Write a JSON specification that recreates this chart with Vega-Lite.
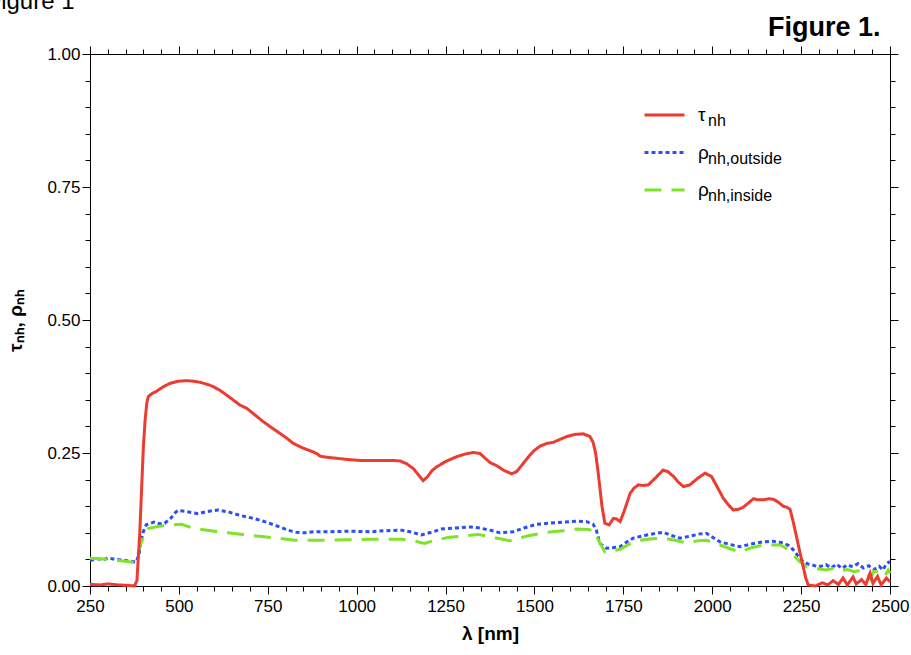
{
  "$schema": "https://vega.github.io/schema/vega-lite/v6.json",
  "width": 800,
  "height": 532,
  "autosize": {"type": "none"},
  "padding": {"left": 90, "top": 54, "right": 21, "bottom": 69},
  "background": "white",
  "config": {
    "view": {"stroke": null},
    "font": "Liberation Sans",
    "axis": {
      "domainColor": "black", "tickColor": "black", "labelColor": "black", "titleColor": "black",
      "labelFont": "Liberation Sans", "titleFont": "Liberation Sans",
      "labelFontSize": 17, "titleFontSize": 19, "titleFontWeight": "bold",
      "grid": false, "tickWidth": 1, "domainWidth": 1
    },
    "legend": {"labelFont": "Liberation Sans", "labelColor": "black"}
  },
  "data": {"values": [
    {"series":"out","lam":250,"val":0.048},{"series":"out","lam":270,"val":0.051},{"series":"out","lam":290,"val":0.050},{"series":"out","lam":301,"val":0.053},{"series":"out","lam":320,"val":0.050},{"series":"out","lam":338,"val":0.049},{"series":"out","lam":360,"val":0.047},{"series":"out","lam":380,"val":0.045},{"series":"out","lam":388,"val":0.060},{"series":"out","lam":394,"val":0.086},{"series":"out","lam":400,"val":0.102},{"series":"out","lam":408,"val":0.115},{"series":"out","lam":430,"val":0.120},{"series":"out","lam":445,"val":0.117},{"series":"out","lam":460,"val":0.118},{"series":"out","lam":478,"val":0.128},{"series":"out","lam":490,"val":0.138},{"series":"out","lam":497,"val":0.142},{"series":"out","lam":520,"val":0.140},{"series":"out","lam":554,"val":0.136},{"series":"out","lam":580,"val":0.140},{"series":"out","lam":610,"val":0.143},{"series":"out","lam":640,"val":0.139},{"series":"out","lam":676,"val":0.132},{"series":"out","lam":710,"val":0.127},{"series":"out","lam":741,"val":0.121},{"series":"out","lam":775,"val":0.113},{"series":"out","lam":807,"val":0.105},{"series":"out","lam":830,"val":0.101},{"series":"out","lam":854,"val":0.100},{"series":"out","lam":880,"val":0.102},{"series":"out","lam":919,"val":0.102},{"series":"out","lam":980,"val":0.103},{"series":"out","lam":1041,"val":0.102},{"series":"out","lam":1080,"val":0.104},{"series":"out","lam":1126,"val":0.105},{"series":"out","lam":1150,"val":0.102},{"series":"out","lam":1182,"val":0.096},{"series":"out","lam":1210,"val":0.101},{"series":"out","lam":1238,"val":0.107},{"series":"out","lam":1280,"val":0.109},{"series":"out","lam":1322,"val":0.111},{"series":"out","lam":1347,"val":0.109},{"series":"out","lam":1375,"val":0.105},{"series":"out","lam":1403,"val":0.100},{"series":"out","lam":1440,"val":0.102},{"series":"out","lam":1470,"val":0.109},{"series":"out","lam":1506,"val":0.116},{"series":"out","lam":1540,"val":0.118},{"series":"out","lam":1581,"val":0.120},{"series":"out","lam":1620,"val":0.122},{"series":"out","lam":1647,"val":0.121},{"series":"out","lam":1665,"val":0.116},{"series":"out","lam":1674,"val":0.105},{"series":"out","lam":1684,"val":0.080},{"series":"out","lam":1703,"val":0.071},{"series":"out","lam":1720,"val":0.072},{"series":"out","lam":1741,"val":0.074},{"series":"out","lam":1760,"val":0.083},{"series":"out","lam":1778,"val":0.090},{"series":"out","lam":1810,"val":0.095},{"series":"out","lam":1840,"val":0.099},{"series":"out","lam":1862,"val":0.101},{"series":"out","lam":1885,"val":0.095},{"series":"out","lam":1909,"val":0.090},{"series":"out","lam":1940,"val":0.094},{"series":"out","lam":1965,"val":0.098},{"series":"out","lam":1984,"val":0.099},{"series":"out","lam":2000,"val":0.092},{"series":"out","lam":2022,"val":0.083},{"series":"out","lam":2050,"val":0.078},{"series":"out","lam":2078,"val":0.074},{"series":"out","lam":2110,"val":0.079},{"series":"out","lam":2144,"val":0.083},{"series":"out","lam":2170,"val":0.084},{"series":"out","lam":2200,"val":0.081},{"series":"out","lam":2215,"val":0.076},{"series":"out","lam":2228,"val":0.068},{"series":"out","lam":2242,"val":0.056},{"series":"out","lam":2256,"val":0.046},{"series":"out","lam":2270,"val":0.041},{"series":"out","lam":2284,"val":0.039},{"series":"out","lam":2300,"val":0.036},{"series":"out","lam":2320,"val":0.040},{"series":"out","lam":2335,"val":0.034},{"series":"out","lam":2350,"val":0.041},{"series":"out","lam":2365,"val":0.033},{"series":"out","lam":2380,"val":0.040},{"series":"out","lam":2395,"val":0.036},{"series":"out","lam":2410,"val":0.042},{"series":"out","lam":2425,"val":0.034},{"series":"out","lam":2440,"val":0.038},{"series":"out","lam":2455,"val":0.031},{"series":"out","lam":2470,"val":0.037},{"series":"out","lam":2480,"val":0.030},{"series":"out","lam":2490,"val":0.042},{"series":"out","lam":2500,"val":0.046},
    {"series":"in","lam":250,"val":0.052},{"series":"in","lam":275,"val":0.051},{"series":"in","lam":300,"val":0.050},{"series":"in","lam":330,"val":0.048},{"series":"in","lam":355,"val":0.046},{"series":"in","lam":376,"val":0.044},{"series":"in","lam":385,"val":0.060},{"series":"in","lam":392,"val":0.078},{"series":"in","lam":399,"val":0.090},{"series":"in","lam":413,"val":0.108},{"series":"in","lam":440,"val":0.112},{"series":"in","lam":479,"val":0.115},{"series":"in","lam":507,"val":0.116},{"series":"in","lam":530,"val":0.111},{"series":"in","lam":554,"val":0.107},{"series":"in","lam":600,"val":0.103},{"series":"in","lam":638,"val":0.100},{"series":"in","lam":680,"val":0.097},{"series":"in","lam":732,"val":0.093},{"series":"in","lam":780,"val":0.090},{"series":"in","lam":826,"val":0.086},{"series":"in","lam":870,"val":0.086},{"series":"in","lam":919,"val":0.086},{"series":"in","lam":980,"val":0.087},{"series":"in","lam":1041,"val":0.088},{"series":"in","lam":1126,"val":0.088},{"series":"in","lam":1160,"val":0.085},{"series":"in","lam":1191,"val":0.080},{"series":"in","lam":1220,"val":0.086},{"series":"in","lam":1257,"val":0.091},{"series":"in","lam":1300,"val":0.094},{"series":"in","lam":1341,"val":0.097},{"series":"in","lam":1380,"val":0.092},{"series":"in","lam":1431,"val":0.085},{"series":"in","lam":1480,"val":0.094},{"series":"in","lam":1534,"val":0.101},{"series":"in","lam":1580,"val":0.104},{"series":"in","lam":1619,"val":0.107},{"series":"in","lam":1650,"val":0.106},{"series":"in","lam":1666,"val":0.104},{"series":"in","lam":1675,"val":0.095},{"series":"in","lam":1680,"val":0.086},{"series":"in","lam":1698,"val":0.064},{"series":"in","lam":1720,"val":0.066},{"series":"in","lam":1741,"val":0.069},{"series":"in","lam":1765,"val":0.078},{"series":"in","lam":1787,"val":0.085},{"series":"in","lam":1830,"val":0.089},{"series":"in","lam":1862,"val":0.090},{"series":"in","lam":1895,"val":0.086},{"series":"in","lam":1928,"val":0.081},{"series":"in","lam":1960,"val":0.085},{"series":"in","lam":1984,"val":0.086},{"series":"in","lam":2005,"val":0.080},{"series":"in","lam":2022,"val":0.077},{"series":"in","lam":2050,"val":0.070},{"series":"in","lam":2078,"val":0.064},{"series":"in","lam":2110,"val":0.072},{"series":"in","lam":2144,"val":0.077},{"series":"in","lam":2191,"val":0.077},{"series":"in","lam":2210,"val":0.070},{"series":"in","lam":2228,"val":0.058},{"series":"in","lam":2248,"val":0.045},{"series":"in","lam":2266,"val":0.036},{"series":"in","lam":2280,"val":0.033},{"series":"in","lam":2300,"val":0.032},{"series":"in","lam":2320,"val":0.030},{"series":"in","lam":2340,"val":0.033},{"series":"in","lam":2360,"val":0.028},{"series":"in","lam":2380,"val":0.031},{"series":"in","lam":2400,"val":0.027},{"series":"in","lam":2420,"val":0.030},{"series":"in","lam":2435,"val":0.025},{"series":"in","lam":2445,"val":0.014},{"series":"in","lam":2455,"val":0.028},{"series":"in","lam":2470,"val":0.026},{"series":"in","lam":2485,"val":0.018},{"series":"in","lam":2495,"val":0.030},{"series":"in","lam":2500,"val":0.024},
    {"series":"tau","lam":250,"val":0.003},{"series":"tau","lam":280,"val":0.002},{"series":"tau","lam":300,"val":0.004},{"series":"tau","lam":330,"val":0.002},{"series":"tau","lam":360,"val":0.001},{"series":"tau","lam":375,"val":0.0},{"series":"tau","lam":382,"val":0.01},{"series":"tau","lam":390,"val":0.10},{"series":"tau","lam":395,"val":0.18},{"series":"tau","lam":400,"val":0.26},{"series":"tau","lam":405,"val":0.312},{"series":"tau","lam":410,"val":0.345},{"series":"tau","lam":414,"val":0.356},{"series":"tau","lam":425,"val":0.362},{"series":"tau","lam":437,"val":0.366},{"series":"tau","lam":455,"val":0.374},{"series":"tau","lam":475,"val":0.381},{"series":"tau","lam":500,"val":0.385},{"series":"tau","lam":522,"val":0.386},{"series":"tau","lam":540,"val":0.385},{"series":"tau","lam":559,"val":0.383},{"series":"tau","lam":580,"val":0.379},{"series":"tau","lam":596,"val":0.375},{"series":"tau","lam":615,"val":0.368},{"series":"tau","lam":634,"val":0.359},{"series":"tau","lam":652,"val":0.350},{"series":"tau","lam":672,"val":0.340},{"series":"tau","lam":691,"val":0.334},{"series":"tau","lam":715,"val":0.321},{"series":"tau","lam":737,"val":0.309},{"series":"tau","lam":760,"val":0.298},{"series":"tau","lam":784,"val":0.287},{"series":"tau","lam":805,"val":0.277},{"series":"tau","lam":822,"val":0.268},{"series":"tau","lam":850,"val":0.259},{"series":"tau","lam":878,"val":0.252},{"series":"tau","lam":890,"val":0.248},{"series":"tau","lam":897,"val":0.244},{"series":"tau","lam":916,"val":0.242},{"series":"tau","lam":945,"val":0.240},{"series":"tau","lam":972,"val":0.238},{"series":"tau","lam":1009,"val":0.236},{"series":"tau","lam":1066,"val":0.236},{"series":"tau","lam":1100,"val":0.236},{"series":"tau","lam":1122,"val":0.235},{"series":"tau","lam":1140,"val":0.230},{"series":"tau","lam":1159,"val":0.221},{"series":"tau","lam":1175,"val":0.208},{"series":"tau","lam":1187,"val":0.198},{"series":"tau","lam":1200,"val":0.206},{"series":"tau","lam":1212,"val":0.217},{"series":"tau","lam":1225,"val":0.224},{"series":"tau","lam":1250,"val":0.234},{"series":"tau","lam":1281,"val":0.243},{"series":"tau","lam":1305,"val":0.248},{"series":"tau","lam":1328,"val":0.251},{"series":"tau","lam":1347,"val":0.249},{"series":"tau","lam":1360,"val":0.241},{"series":"tau","lam":1375,"val":0.232},{"series":"tau","lam":1394,"val":0.226},{"series":"tau","lam":1415,"val":0.217},{"series":"tau","lam":1436,"val":0.211},{"series":"tau","lam":1450,"val":0.215},{"series":"tau","lam":1468,"val":0.230},{"series":"tau","lam":1487,"val":0.246},{"series":"tau","lam":1500,"val":0.255},{"series":"tau","lam":1516,"val":0.263},{"series":"tau","lam":1535,"val":0.268},{"series":"tau","lam":1553,"val":0.270},{"series":"tau","lam":1570,"val":0.275},{"series":"tau","lam":1591,"val":0.281},{"series":"tau","lam":1615,"val":0.285},{"series":"tau","lam":1637,"val":0.286},{"series":"tau","lam":1656,"val":0.281},{"series":"tau","lam":1665,"val":0.270},{"series":"tau","lam":1672,"val":0.250},{"series":"tau","lam":1678,"val":0.220},{"series":"tau","lam":1684,"val":0.185},{"series":"tau","lam":1690,"val":0.150},{"series":"tau","lam":1698,"val":0.118},{"series":"tau","lam":1710,"val":0.115},{"series":"tau","lam":1722,"val":0.127},{"series":"tau","lam":1731,"val":0.126},{"series":"tau","lam":1741,"val":0.121},{"series":"tau","lam":1752,"val":0.140},{"series":"tau","lam":1769,"val":0.174},{"series":"tau","lam":1780,"val":0.184},{"series":"tau","lam":1792,"val":0.190},{"series":"tau","lam":1805,"val":0.189},{"series":"tau","lam":1820,"val":0.190},{"series":"tau","lam":1840,"val":0.203},{"series":"tau","lam":1862,"val":0.218},{"series":"tau","lam":1875,"val":0.215},{"series":"tau","lam":1891,"val":0.206},{"series":"tau","lam":1905,"val":0.195},{"series":"tau","lam":1919,"val":0.187},{"series":"tau","lam":1937,"val":0.190},{"series":"tau","lam":1960,"val":0.203},{"series":"tau","lam":1980,"val":0.212},{"series":"tau","lam":1998,"val":0.206},{"series":"tau","lam":2015,"val":0.185},{"series":"tau","lam":2031,"val":0.165},{"series":"tau","lam":2045,"val":0.153},{"series":"tau","lam":2059,"val":0.143},{"series":"tau","lam":2073,"val":0.144},{"series":"tau","lam":2087,"val":0.148},{"series":"tau","lam":2100,"val":0.155},{"series":"tau","lam":2116,"val":0.164},{"series":"tau","lam":2130,"val":0.162},{"series":"tau","lam":2144,"val":0.162},{"series":"tau","lam":2160,"val":0.164},{"series":"tau","lam":2172,"val":0.163},{"series":"tau","lam":2185,"val":0.158},{"series":"tau","lam":2200,"val":0.150},{"series":"tau","lam":2210,"val":0.148},{"series":"tau","lam":2219,"val":0.144},{"series":"tau","lam":2228,"val":0.120},{"series":"tau","lam":2237,"val":0.093},{"series":"tau","lam":2246,"val":0.065},{"series":"tau","lam":2256,"val":0.036},{"series":"tau","lam":2263,"val":0.015},{"series":"tau","lam":2270,"val":0.002},{"series":"tau","lam":2290,"val":0.0},{"series":"tau","lam":2310,"val":0.006},{"series":"tau","lam":2325,"val":0.002},{"series":"tau","lam":2340,"val":0.010},{"series":"tau","lam":2355,"val":0.003},{"series":"tau","lam":2368,"val":0.015},{"series":"tau","lam":2380,"val":0.002},{"series":"tau","lam":2396,"val":0.017},{"series":"tau","lam":2405,"val":0.004},{"series":"tau","lam":2420,"val":0.012},{"series":"tau","lam":2432,"val":0.003},{"series":"tau","lam":2444,"val":0.024},{"series":"tau","lam":2452,"val":0.005},{"series":"tau","lam":2465,"val":0.018},{"series":"tau","lam":2475,"val":0.002},{"series":"tau","lam":2490,"val":0.015},{"series":"tau","lam":2500,"val":0.008}
  ]},
  "layer": [
    {
      "mark": {"type": "line", "strokeWidth": 3, "strokeCap": "butt"},
      "encoding": {
        "x": {"field": "lam", "type": "quantitative",
          "scale": {"domain": [250, 2500], "nice": false, "zero": false},
          "axis": {"orient": "bottom", "title": "λ [nm]", "format": "d",
            "values": [250,300,350,400,450,500,550,600,650,700,750,800,850,900,950,1000,1050,1100,1150,1200,1250,1300,1350,1400,1450,1500,1550,1600,1650,1700,1750,1800,1850,1900,1950,2000,2050,2100,2150,2200,2250,2300,2350,2400,2450,2500],
            "tickSize": {"condition": {"test": "datum.value % 250 === 0", "value": 8}, "value": 5},
            "labelExpr": "datum.value % 250 === 0 ? datum.label : ''",
            "labelOverlap": false, "labelFlush": false, "labelPadding": 4, "titlePadding": 10}},
        "y": {"field": "val", "type": "quantitative",
          "scale": {"domain": [0, 1], "nice": false},
          "axis": {"orient": "left", "title": "τₙₕ, ρₙₕ", "format": ".2f",
            "values": [0,0.05,0.1,0.15,0.2,0.25,0.3,0.35,0.4,0.45,0.5,0.55,0.6,0.65,0.7,0.75,0.8,0.85,0.9,0.95,1],
            "tickSize": {"condition": {"test": "abs(datum.value*4 - round(datum.value*4)) < 0.001", "value": 8}, "value": 5},
            "labelExpr": "abs(datum.value*4 - round(datum.value*4)) < 0.001 ? datum.label : ''",
            "labelOverlap": false, "labelFlush": false, "labelPadding": 2, "titlePadding": 21}},
        "color": {"field": "series", "type": "nominal",
          "scale": {"domain": ["tau", "out", "in"], "range": ["#ec3b30", "#2b4ff2", "#7fe32a"]},
          "legend": {"title": null, "orient": "none", "legendX": 553, "legendY": 46, "padding": 0,
            "symbolType": "stroke", "symbolSize": 1600, "symbolStrokeWidth": 3,
            "labelFontSize": 19, "labelOffset": 12, "clipHeight": 30, "rowPadding": 7.5,
            "labelExpr": "datum.value === 'tau' ? 'τ' : 'ρ'"}},
        "strokeDash": {"field": "series", "type": "nominal",
          "scale": {"domain": ["tau", "out", "in"], "range": [[1, 0], [4, 3], [17, 10]]},
          "legend": {"title": null, "orient": "none", "legendX": 553, "legendY": 46, "padding": 0,
            "symbolType": "stroke", "symbolSize": 1600, "symbolStrokeWidth": 3,
            "labelFontSize": 19, "labelOffset": 12, "clipHeight": 30, "rowPadding": 7.5,
            "labelExpr": "datum.value === 'tau' ? 'τ' : 'ρ'"}}
      }
    },
    {
      "transform": [{"calculate": "datum.series", "as": "sub"}],
      "mark": {"type": "point", "opacity": 0},
      "encoding": {
        "x": {"field": "lam", "type": "quantitative",
          "scale": {"domain": [250, 2500], "nice": false, "zero": false},
          "axis": {"orient": "top", "labels": false,
            "values": [250,300,350,400,450,500,550,600,650,700,750,800,850,900,950,1000,1050,1100,1150,1200,1250,1300,1350,1400,1450,1500,1550,1600,1650,1700,1750,1800,1850,1900,1950,2000,2050,2100,2150,2200,2250,2300,2350,2400,2450,2500],
            "tickSize": {"condition": {"test": "datum.value % 250 === 0", "value": 8}, "value": 5},
            "title": "Figure 1", "titleX": -104, "titleY": -46, "titleAlign": "left", "titleAnchor": null,
            "titleBaseline": "alphabetic", "titleAngle": 0, "titleFontWeight": "normal", "titleFontSize": 24}},
        "y": {"field": "val", "type": "quantitative",
          "scale": {"domain": [0, 1], "nice": false},
          "axis": {"orient": "right", "labels": false,
            "values": [0,0.05,0.1,0.15,0.2,0.25,0.3,0.35,0.4,0.45,0.5,0.55,0.6,0.65,0.7,0.75,0.8,0.85,0.9,0.95,1],
            "tickSize": {"condition": {"test": "abs(datum.value*4 - round(datum.value*4)) < 0.001", "value": 8}, "value": 5},
            "title": "Figure 1.", "titleX": -10, "titleY": -19, "titleAlign": "right",
            "titleBaseline": "alphabetic", "titleAngle": 0, "titleFontWeight": "bold", "titleFontSize": 27}},
        "shape": {"field": "sub", "type": "nominal",
          "sort": ["tau", "out", "in"],
          "legend": {"title": null, "orient": "none", "legendX": 553, "legendY": 52, "padding": 0,
            "symbolSize": 1600, "symbolOpacity": 0, "symbolStrokeWidth": 0,
            "labelFontSize": 16, "labelOffset": 25, "clipHeight": 30, "rowPadding": 7.5,
            "labelExpr": "datum.value === 'tau' ? 'nh' : datum.value === 'out' ? 'nh,outside' : 'nh,inside'"}}
      }
    }
  ],
  "resolve": {"axis": {"x": "independent", "y": "independent"}}
}
